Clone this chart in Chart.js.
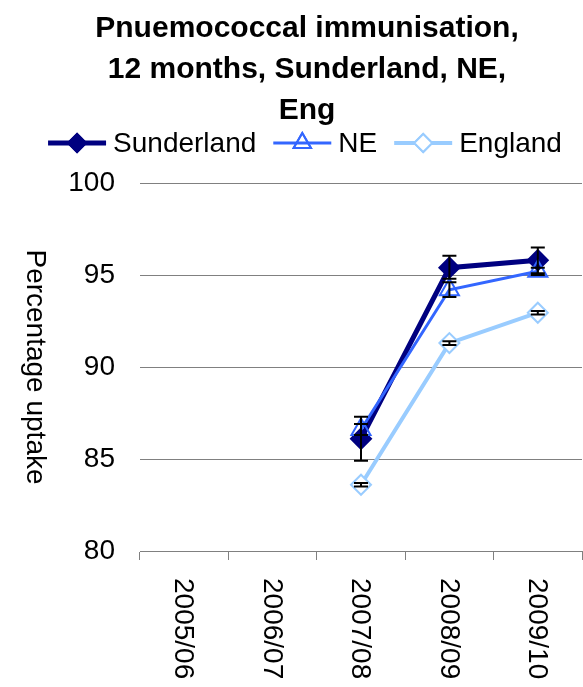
<!DOCTYPE html>
<html>
<head>
<meta charset="utf-8">
<script src="https://cdn.jsdelivr.net/npm/chart.js@4/dist/chart.umd.min.js"></script>
<style>
  body { margin: 0; background: #fff; overflow: hidden; }
  canvas { display: block; }
</style>
</head>
<body>
<canvas id="chart" width="583" height="687"></canvas>
<script>
// data
const years = ["2005/06", "2006/07", "2007/08", "2008/09", "2009/10"];
const sunderland = [null, null, 86.1, 95.4, 95.8];
const sunderlandLow = [null, null, 84.9, 94.8, 95.1];
const sunderlandHigh = [null, null, 87.3, 96.05, 96.5];
const ne = [null, null, 86.6, 94.2, 95.2];
const neLow = [null, null, 86.3, 93.8, 95.0];
const neHigh = [null, null, 86.9, 94.6, 95.4];
const england = [null, null, 83.6, 91.3, 92.95];
const englandLow = [null, null, 83.5, 91.2, 92.85];
const englandHigh = [null, null, 83.7, 91.4, 93.05];
const yTicks = [80, 85, 90, 95, 100];

const titleLines = ["Pnuemococcal immunisation,", "12 months, Sunderland, NE,", "Eng"];
const yTitle = "Percentage uptake";

const FONT = '"Liberation Sans", Arial, sans-serif';
const colSund = "#000080";
const colNE = "#3366FF";
const colEng = "#99CCFF";

const series = [
  { label: "Sunderland", data: sunderland, low: sunderlandLow, high: sunderlandHigh, color: colSund, style: "rectRot", width: 5, fill: colSund, r: 10 },
  { label: "NE", data: ne, low: neLow, high: neHigh, color: colNE, style: "triangle", width: 3, fill: "rgba(0,0,0,0)", r: 11 },
  { label: "England", data: england, low: englandLow, high: englandHigh, color: colEng, style: "rectRot", width: 4, fill: "#ffffff", r: 10 }
];

const extras = {
  id: "extras",
  afterDatasetsDraw(chart) {
    const ctx = chart.ctx;
    const x = chart.scales.x, y = chart.scales.y;
    ctx.save();
    ctx.strokeStyle = "#000";
    ctx.lineWidth = 2;
    series.forEach(function (s) {
      s.data.forEach(function (v, i) {
        if (v == null) return;
        const px = x.getPixelForValue(i);
        const yl = y.getPixelForValue(s.low[i]);
        const yh = y.getPixelForValue(s.high[i]);
        ctx.beginPath();
        ctx.moveTo(px, yl); ctx.lineTo(px, yh);
        ctx.moveTo(px - 7, yl); ctx.lineTo(px + 7, yl);
        ctx.moveTo(px - 7, yh); ctx.lineTo(px + 7, yh);
        ctx.stroke();
      });
    });
    ctx.restore();
  },
  afterDraw(chart) {
    const ctx = chart.ctx;
    const x = chart.scales.x, a = chart.chartArea;
    ctx.save();
    ctx.fillStyle = "#000";

    // title
    ctx.font = "bold 30px " + FONT;
    ctx.textAlign = "center";
    ctx.textBaseline = "alphabetic";
    [37, 78, 119].forEach(function (by, i) {
      ctx.fillText(titleLines[i], 307, by);
    });

    // legend
    ctx.font = "28px " + FONT;
    ctx.textAlign = "left";
    ctx.textBaseline = "middle";
    const lineLen = 58, gapText = 7, gapItem = 17;
    let total = 0;
    series.forEach(function (s, i) {
      total += lineLen + gapText + ctx.measureText(s.label).width + (i < series.length - 1 ? gapItem : 0);
    });
    let lx = 305 - total / 2;
    const ly = 143;
    series.forEach(function (s) {
      ctx.strokeStyle = s.color;
      ctx.lineWidth = s.width;
      ctx.beginPath();
      ctx.moveTo(lx, ly); ctx.lineTo(lx + lineLen, ly);
      ctx.stroke();
      ctx.fillStyle = s.fill;
      ctx.lineWidth = 2;
      Chart.helpers.drawPoint(ctx, { pointStyle: s.style, radius: s.r - 1, borderWidth: 2, rotation: 0 }, lx + lineLen / 2, ly);
      ctx.fill();
      ctx.stroke();
      ctx.fillStyle = "#000";
      ctx.fillText(s.label, lx + lineLen + gapText, ly + 1);
      lx += lineLen + gapText + ctx.measureText(s.label).width + gapItem;
    });

    // y axis title, reads top to bottom
    ctx.save();
    ctx.translate(35, (a.top + a.bottom) / 2);
    ctx.rotate(Math.PI / 2);
    ctx.textAlign = "center";
    ctx.textBaseline = "middle";
    ctx.fillText(yTitle, 0, 0);
    ctx.restore();

    // category labels, read top to bottom
    years.forEach(function (lab, i) {
      ctx.save();
      ctx.translate(x.getPixelForValue(i) - 1, a.bottom + 27);
      ctx.rotate(Math.PI / 2);
      ctx.textAlign = "left";
      ctx.textBaseline = "middle";
      ctx.fillText(lab, 0, 0);
      ctx.restore();
    });
    ctx.restore();
  }
};

new Chart(document.getElementById("chart"), {
  type: "line",
  data: {
    labels: years,
    datasets: series.map(function (s, i) {
      return {
        label: s.label,
        data: s.data,
        borderColor: s.color,
        borderWidth: s.width,
        backgroundColor: s.fill,
        pointStyle: s.style,
        pointRadius: s.r,
        pointBorderWidth: 2,
        pointBorderColor: s.color,
        pointBackgroundColor: s.fill,
        tension: 0,
        order: series.length - i
      };
    })
  },
  options: {
    responsive: false,
    animation: false,
    layout: { autoPadding: false, padding: { top: 183, right: 1, bottom: 0, left: 0 } },
    plugins: {
      legend: { display: false },
      title: { display: false },
      tooltip: { enabled: false }
    },
    scales: {
      x: {
        offset: true,
        grid: { offset: true, drawOnChartArea: false, drawTicks: true, tickLength: 9, color: "#808080" },
        border: { display: true, color: "#808080" },
        ticks: { display: false },
        afterFit(scale) { scale.height = 136; }
      },
      y: {
        min: 80,
        max: 100,
        afterBuildTicks(scale) { scale.ticks = yTicks.map(function (v) { return { value: v }; }); },
        grid: { drawTicks: false, color: "#808080" },
        border: { display: false },
        ticks: { padding: 25, color: "#000", font: { size: 28, family: FONT } },
        afterFit(scale) { scale.width = 140; }
      }
    }
  },
  plugins: [extras]
});
</script>
</body>
</html>
